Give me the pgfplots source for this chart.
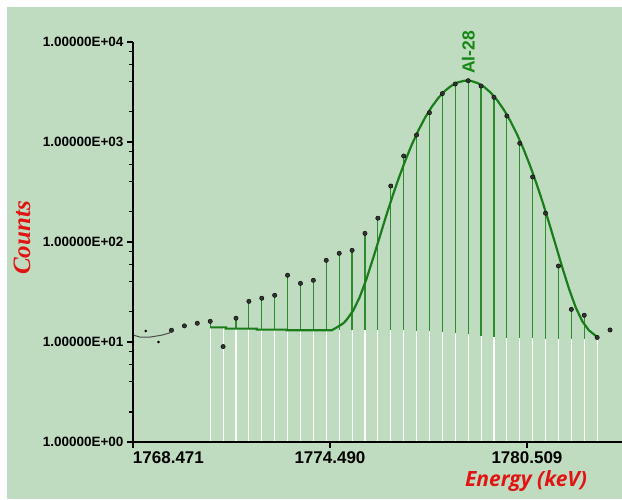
\documentclass[border=0pt]{standalone}
\usepackage{fontspec}
\setmainfont{Liberation Sans}
\newfontfamily\serifbi{Liberation Serif}
\newfontfamily\opensans{Open Sans}
\usepackage{pgfplots}
\pgfplotsset{compat=1.18}
\definecolor{bggreen}{RGB}{192,220,192}
\definecolor{fitgreen}{RGB}{25,125,25}
\definecolor{stemgreen}{RGB}{45,140,45}
\definecolor{labred}{RGB}{225,20,20}
\definecolor{algreen}{RGB}{20,135,20}
\begin{document}
\begin{tikzpicture}
\fill[white] (-133pt,-57pt) rectangle (489pt,442pt);
\fill[bggreen] (-126pt,-57pt) rectangle (489pt,435pt);
\useasboundingbox (-133pt,-57pt) rectangle (489pt,442pt);
\begin{axis}[
  at={(0pt,0pt)}, anchor=south west,
  scale only axis, width=489pt, height=400pt,
  ymode=log, xmin=1768.471, xmax=1783.412, ymin=1, ymax=10000,
  axis x line*=bottom, axis y line*=left,
  axis line style={line width=2pt, black},
  axis on top,
  tick align=outside, major tick length=6pt, minor tick length=4pt,
  tick style={black, line width=1.2pt},
  ytick={1,10,100,1000,10000},
  yticklabels={1.00000E+00,1.00000E+01,1.00000E+02,1.00000E+03,1.00000E+04},
  minor ytick={2,4,6,8,20,40,60,80,200,400,600,800,2000,4000,6000,8000},
  xtick={1768.471,1774.490,1780.509},
  xticklabels={\makebox[0pt][l]{1768.471},1774.490,1780.509},
  yticklabel style={font=\fontsize{13.5}{14}\selectfont\bfseries, anchor=east},
  xticklabel style={font=\fontsize{17}{18}\selectfont\bfseries, anchor=north, yshift=-2.5pt, inner sep=1pt},
  clip=true,
]
% white lines below baseline
\addplot[white, line width=1.1pt, unbounded coords=jump] coordinates {
(1770.830,1) (1770.830,14.0) (1770.830,nan)
(1771.224,1) (1771.224,14.0) (1771.224,nan)
(1771.618,1) (1771.618,13.6) (1771.618,nan)
(1772.012,1) (1772.012,13.6) (1772.012,nan)
(1772.406,1) (1772.406,13.3) (1772.406,nan)
(1772.800,1) (1772.800,13.3) (1772.800,nan)
(1773.194,1) (1773.194,13.1) (1773.194,nan)
(1773.588,1) (1773.588,13.1) (1773.588,nan)
(1773.982,1) (1773.982,13.1) (1773.982,nan)
(1774.376,1) (1774.376,13.1) (1774.376,nan)
(1774.771,1) (1774.771,13.1) (1774.771,nan)
(1775.165,1) (1775.165,13.1) (1775.165,nan)
(1775.559,1) (1775.559,13.1) (1775.559,nan)
(1775.953,1) (1775.953,13.1) (1775.953,nan)
(1776.347,1) (1776.347,13.1) (1776.347,nan)
(1776.741,1) (1776.741,13.05) (1776.741,nan)
(1777.135,1) (1777.135,12.97) (1777.135,nan)
(1777.529,1) (1777.529,12.82) (1777.529,nan)
(1777.923,1) (1777.923,12.59) (1777.923,nan)
(1778.317,1) (1778.317,12.28) (1778.317,nan)
(1778.712,1) (1778.712,11.92) (1778.712,nan)
(1779.106,1) (1779.106,11.56) (1779.106,nan)
(1779.500,1) (1779.500,11.26) (1779.500,nan)
(1779.894,1) (1779.894,11.05) (1779.894,nan)
(1780.288,1) (1780.288,10.92) (1780.288,nan)
(1780.682,1) (1780.682,10.85) (1780.682,nan)
(1781.076,1) (1781.076,10.8) (1781.076,nan)
(1781.470,1) (1781.470,10.8) (1781.470,nan)
(1781.864,1) (1781.864,10.8) (1781.864,nan)
(1782.258,1) (1782.258,10.8) (1782.258,nan)
(1782.653,1) (1782.653,10.8)
};
% green stems from baseline to data
\addplot[stemgreen, line width=1.2pt, unbounded coords=jump] coordinates {
(1770.830,14.0) (1770.830,16.1) (1770.830,nan)
(1771.618,13.6) (1771.618,17.3) (1771.618,nan)
(1772.012,13.6) (1772.012,25.5) (1772.012,nan)
(1772.406,13.3) (1772.406,27.4) (1772.406,nan)
(1772.800,13.3) (1772.800,29.3) (1772.800,nan)
(1773.194,13.1) (1773.194,46.5) (1773.194,nan)
(1773.588,13.1) (1773.588,38.6) (1773.588,nan)
(1773.982,13.1) (1773.982,41.4) (1773.982,nan)
(1774.376,13.1) (1774.376,65.6) (1774.376,nan)
(1774.771,13.1) (1774.771,77.1) (1774.771,nan)
(1775.165,13.1) (1775.165,82.6) (1775.165,nan)
(1775.559,13.1) (1775.559,122) (1775.559,nan)
(1775.953,13.1) (1775.953,173) (1775.953,nan)
(1776.347,13.1) (1776.347,363) (1776.347,nan)
(1776.741,13.05) (1776.741,724) (1776.741,nan)
(1777.135,12.97) (1777.135,1175) (1777.135,nan)
(1777.529,12.82) (1777.529,1964) (1777.529,nan)
(1777.923,12.59) (1777.923,3050) (1777.923,nan)
(1778.317,12.28) (1778.317,3800) (1778.317,nan)
(1778.712,11.92) (1778.712,4102) (1778.712,nan)
(1779.106,11.56) (1779.106,3631) (1779.106,nan)
(1779.500,11.26) (1779.500,2799) (1779.500,nan)
(1779.894,11.05) (1779.894,1820) (1779.894,nan)
(1780.288,10.92) (1780.288,970) (1780.288,nan)
(1780.682,10.85) (1780.682,447) (1780.682,nan)
(1781.076,10.8) (1781.076,194) (1781.076,nan)
(1781.470,10.8) (1781.470,57.5) (1781.470,nan)
(1781.864,10.8) (1781.864,21.2) (1781.864,nan)
(1782.258,10.8) (1782.258,18.5) (1782.258,nan)
(1782.653,10.8) (1782.653,11.1)
};
% baseline steps and fitted peak
\addplot[fitgreen, line width=2.2pt, sharp plot] coordinates {
(1770.830,14.0) (1771.313,14.0) (1771.313,13.6) (1772.250,13.6)
(1772.250,13.3) (1773.167,13.3) (1773.167,13.1) (1774.542,13.1)
(1774.7,14.0) (1774.9,15.4) (1775.0,16.7) (1775.2,20.6) (1775.4,28.2)
(1775.6,42.3) (1775.8,67.5) (1776.0,110) (1776.2,180) (1776.4,287)
(1776.6,444) (1776.8,664) (1777.0,958) (1777.2,1325) (1777.4,1764)
(1777.6,2250) (1777.8,2758) (1778.0,3241) (1778.2,3654) (1778.4,3952)
(1778.6,4100) (1778.676,4112) (1778.8,4078) (1779.0,3888) (1779.2,3554)
(1779.4,3114) (1779.6,2615) (1779.8,2105) (1780.0,1625) (1780.2,1203)
(1780.4,855) (1780.6,584) (1780.8,383) (1781.0,243) (1781.2,149)
(1781.4,90) (1781.6,54) (1781.8,33.5) (1782.0,22.1) (1782.2,16.1)
(1782.4,13.1) (1782.6,11.6) (1782.657,11.2)
};
% black background line at left
\addplot[black!70, line width=1pt] coordinates {
(1768.471,11.75) (1768.685,11.2) (1768.990,11.2) (1769.348,11.7) (1769.580,12.3) (1769.647,13.0)
};
% data points
\addplot[only marks, mark=*, mark size=2.2pt, black, mark options={fill=black!80}] coordinates {
(1769.647,13.1) (1770.041,14.5) (1770.435,15.4) (1770.830,16.1) (1771.224,9.0)
(1771.618,17.3) (1772.012,25.5) (1772.406,27.4) (1772.800,29.3) (1773.194,46.5)
(1773.588,38.6) (1773.982,41.4) (1774.376,65.6) (1774.771,77.1) (1775.165,82.6)
(1775.559,122) (1775.953,173) (1776.347,363) (1776.741,724) (1777.135,1175)
(1777.529,1964) (1777.923,3050) (1778.317,3800) (1778.712,4102) (1779.106,3631)
(1779.500,2799) (1779.894,1820) (1780.288,970) (1780.682,447) (1781.076,194)
(1781.470,57.5) (1781.864,21.2) (1782.258,18.5) (1782.653,11.1) (1783.047,13.2)
(1783.420,13.2)
};
\addplot[only marks, mark=*, mark size=1.1pt, black] coordinates {
(1768.859,12.9) (1769.253,10.0)
};
\end{axis}
\node[rotate=90, text=labred, font=\serifbi\bfseries\itshape\fontsize{25}{26}\selectfont] at (-111pt,204pt) {Counts};
\node[text=labred, inner sep=0pt, font=\opensans\bfseries\itshape\fontsize{21}{24}\selectfont] at (393pt,-39pt) {Energy (keV)};
\node[rotate=90, text=algreen, font=\bfseries\fontsize{17.5}{18}\selectfont] at (335.3pt,389.5pt) {Al-28};
\end{tikzpicture}
\end{document}
